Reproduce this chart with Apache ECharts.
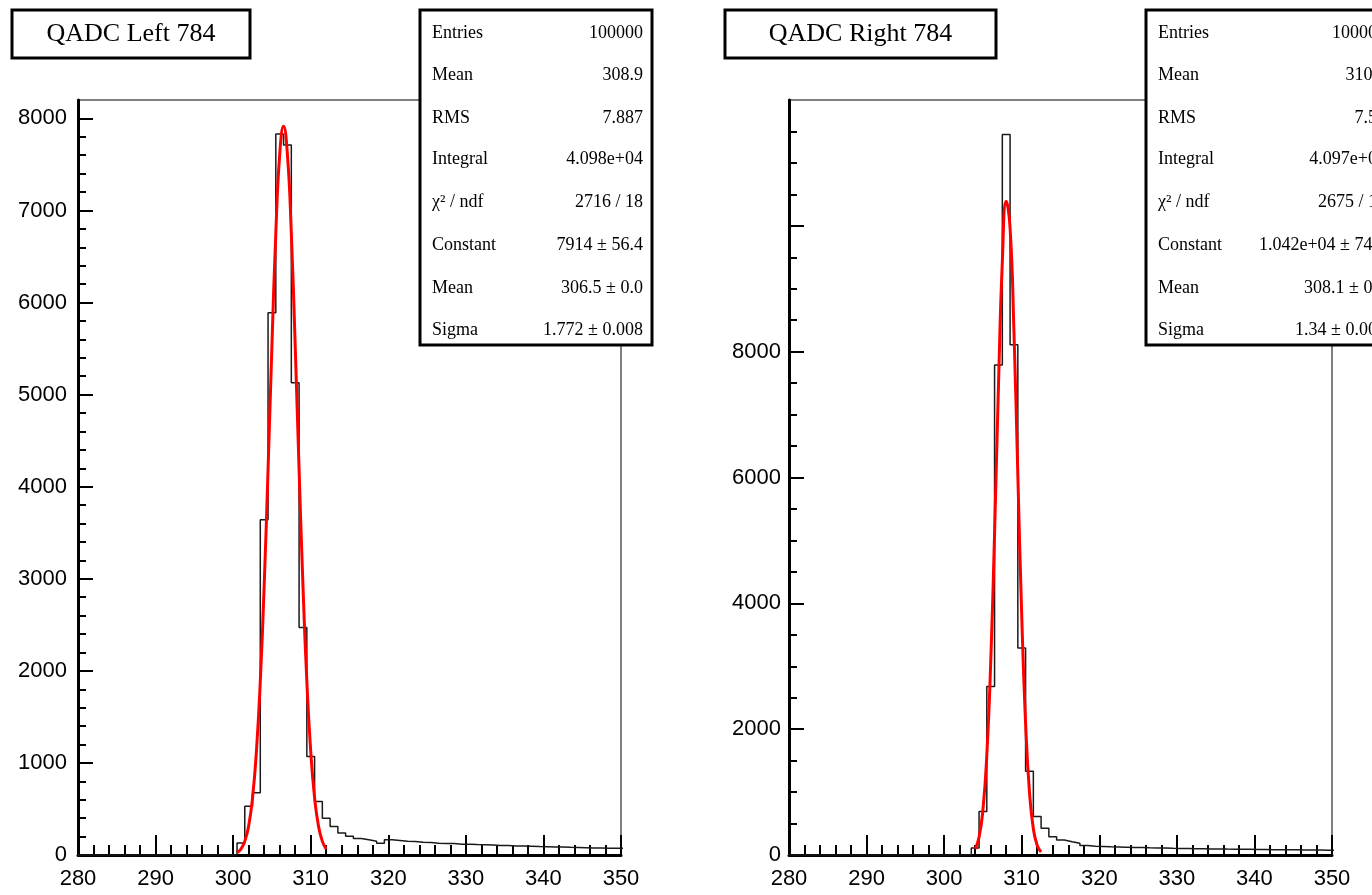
<!DOCTYPE html>
<html>
<head>
<meta charset="utf-8">
<script src="https://cdn.jsdelivr.net/npm/echarts@6/dist/echarts.min.js"></script>
<style>html,body{margin:0;padding:0;background:#fff}#c{width:1372px;height:895px}</style>
</head>
<body>
<div id="c"></div>
<script>
// ---- data ----
const binCenters = [280,281,282,283,284,285,286,287,288,289,290,291,292,293,294,295,296,297,298,299,
  300,301,302,303,304,305,306,307,308,309,310,311,312,313,314,315,316,317,318,319,
  320,321,322,323,324,325,326,327,328,329,330,331,332,333,334,335,336,337,338,339,
  340,341,342,343,344,345,346,347,348,349,350];
const leftCounts = [0,0,0,0,0,0,0,0,0,0,0,0,0,0,0,0,0,0,0,0,
  0,130,530,675,3640,5890,7830,7710,5130,2470,1070,580,400,310,240,205,180,165,150,128,
  165,158,150,146,138,136,128,126,124,118,117,113,112,108,104,103,99,97,95,91,
  90,87,86,83,82,80,77,76,74,73,72];
const rightCounts = [0,0,0,0,0,0,0,0,0,0,0,0,0,0,0,0,0,0,0,0,
  0,0,0,0,110,690,2680,7790,11450,8110,3290,1330,610,425,290,240,212,186,150,140,
  136,130,128,124,120,118,114,112,110,107,105,104,101,100,97,96,94,93,91,90,
  88,87,85,85,83,82,80,79,78,76,75];
const leftFitX = [300.5,301,301.5,302,302.5,303,303.5,304,304.5,305,305.5,306,306.5,307,307.5,308,308.5,309,309.5,310,310.5,311,311.5,312];
const leftFitY = [26,64,148,315,620,1126,1888,2926,4186,5532,6750,7605,7914,7605,6750,5532,4186,2926,1888,1126,620,315,148,64];
const rightFitX = [304,304.5,305,305.5,306,306.5,307,307.5,308,308.5,309,309.5,310,310.5,311,311.5,312,312.5];
const rightFitY = [97,282,716,1587,3050,5110,7440,9430,10390,9965,8315,6035,3813,2096,1000,417,150,47];

const xTickLabels = [280,290,300,310,320,330,340,350];
const leftYTicks = [0,1000,2000,3000,4000,5000,6000,7000,8000];
const leftYLabels = [0,1000,2000,3000,4000,5000,6000,7000,8000];
const rightYTicks = [0,2000,4000,6000,8000,10000];
const rightYLabels = [0,2000,4000,6000,8000];

const leftTitle = 'QADC Left 784';
const rightTitle = 'QADC Right 784';
const statLabels = ['Entries','Mean','RMS','Integral','\u03c7\u00b2 / ndf','Constant','Mean','Sigma'];
const leftStatValues = ['100000','308.9','7.887','4.098e+04','2716 / 18','7914 \u00b1 56.4','306.5 \u00b1 0.0','1.772 \u00b1 0.008'];
const rightStatValues = ['100000','310.6','7.52','4.097e+04','2675 / 16','1.042e+04 \u00b1 74.3','308.1 \u00b1 0.0','1.34 \u00b1 0.006'];

// ---- helpers ----
function histPoints(centers, counts) {
  const pts = [];
  centers.forEach((c, i) => { pts.push([c - 0.5, counts[i]]); pts.push([c + 0.5, counts[i]]); });
  return pts;
}
function zip(xs, ys) { return xs.map((x, i) => [x, ys[i]]); }
function minorList(step, max) { const a = []; for (let v = 0; v <= max + 1e-9; v += step) a.push(v); return a; }

const LEFT_MAX = 8200, RIGHT_MAX = 12000;
const labelFont = {fontFamily: 'Liberation Sans, Arial, sans-serif', fontSize: 22, color: '#000'};
const plain = v => String(v);
const statFont = '18px "Liberation Serif", "Times New Roman", serif';

function xAxisOpt(gi) {
  return {
    type: 'value', gridIndex: gi, min: 280, max: 350, interval: 10, position: 'bottom',
    axisLine: {show: true, lineStyle: {color: '#000', width: 3}},
    axisTick: {show: true, inside: true, length: 20, lineStyle: {color: '#000', width: 2}},
    minorTick: {show: true, splitNumber: 5, length: 10, lineStyle: {color: '#000', width: 2}},
    axisLabel: Object.assign({margin: 13, customValues: xTickLabels, formatter: plain}, labelFont),
    splitLine: {show: false}
  };
}
function yMajor(gi, max, ticks, labels, margin) {
  return {
    type: 'value', gridIndex: gi, min: 0, max: max, position: 'left',
    axisLine: {show: true, lineStyle: {color: '#000', width: 3}},
    axisTick: {show: true, inside: true, length: 15, customValues: ticks, lineStyle: {color: '#000', width: 2}},
    axisLabel: Object.assign({margin: margin, customValues: labels, formatter: plain}, labelFont),
    splitLine: {show: false}
  };
}
function yMinor(gi, max, step) {
  return {
    type: 'value', gridIndex: gi, min: 0, max: max, position: 'left', offset: 0,
    axisLine: {show: false},
    axisTick: {show: true, inside: true, length: 8, customValues: minorList(step, max - 1), lineStyle: {color: '#000', width: 2}},
    axisLabel: {show: false},
    splitLine: {show: false}
  };
}

function statsBox(x, y, w, h, values) {
  const children = [{
    type: 'rect', shape: {x: 0, y: 0, width: w, height: h},
    style: {fill: '#fff', stroke: '#000', lineWidth: 3}
  }];
  const rowY = [23, 65, 108, 149, 192, 235, 278, 320];
  statLabels.forEach((lab, i) => {
    children.push({type: 'text', x: 12, y: rowY[i], style: {text: lab, fill: '#000',
      font: statFont, textVerticalAlign: 'middle', textAlign: 'left'}});
    children.push({type: 'text', x: w - 9, y: rowY[i], style: {text: values[i], fill: '#000',
      font: statFont, textVerticalAlign: 'middle', textAlign: 'right'}});
  });
  return {type: 'group', x: x, y: y, z: 100, zlevel: 1, children: children};
}
function titleBox(x, y, w, h, text) {
  return {type: 'group', x: x, y: y, z: 100, zlevel: 1, children: [
    {type: 'rect', shape: {x: 0, y: 0, width: w, height: h}, style: {fill: '#fff', stroke: '#000', lineWidth: 3}},
    {type: 'text', x: w / 2, y: h / 2, style: {text: text, fill: '#000',
      font: '26px "Liberation Serif", "Times New Roman", serif', textAlign: 'center', textVerticalAlign: 'middle'}}
  ]};
}

const chart = echarts.init(document.getElementById('c'), null, {renderer: 'canvas'});
chart.setOption({
  animation: false,
  backgroundColor: '#fff',
  grid: [
    {left: 78, top: 100, width: 543, height: 755, show: true, borderColor: '#808080', borderWidth: 2, backgroundColor: 'transparent'},
    {left: 789, top: 100, width: 543, height: 755, show: true, borderColor: '#808080', borderWidth: 2, backgroundColor: 'transparent'}
  ],
  xAxis: [xAxisOpt(0), xAxisOpt(1)],
  yAxis: [
    yMajor(0, LEFT_MAX, leftYTicks, leftYLabels, 11),
    yMinor(0, LEFT_MAX, 200),
    yMajor(1, RIGHT_MAX, rightYTicks, rightYLabels, 8),
    yMinor(1, RIGHT_MAX, 500)
  ],
  series: [
    {type: 'line', xAxisIndex: 0, yAxisIndex: 0, data: histPoints(binCenters, leftCounts),
      showSymbol: false, lineStyle: {color: '#1a1a1a', width: 1.5}, z: 2},
    {type: 'line', xAxisIndex: 0, yAxisIndex: 0, data: zip(leftFitX, leftFitY), smooth: true,
      showSymbol: false, lineStyle: {color: '#ff0000', width: 3}, z: 3},
    {type: 'line', xAxisIndex: 1, yAxisIndex: 2, data: histPoints(binCenters, rightCounts),
      showSymbol: false, lineStyle: {color: '#1a1a1a', width: 1.5}, z: 2},
    {type: 'line', xAxisIndex: 1, yAxisIndex: 2, data: zip(rightFitX, rightFitY), smooth: true,
      showSymbol: false, lineStyle: {color: '#ff0000', width: 3}, z: 3}
  ],
  graphic: [
    titleBox(12, 10, 238, 48, leftTitle),
    titleBox(725, 10, 271, 48, rightTitle),
    statsBox(420, 10, 232, 335, leftStatValues),
    statsBox(1146, 10, 249, 335, rightStatValues)
  ]
});
</script>
</body>
</html>
